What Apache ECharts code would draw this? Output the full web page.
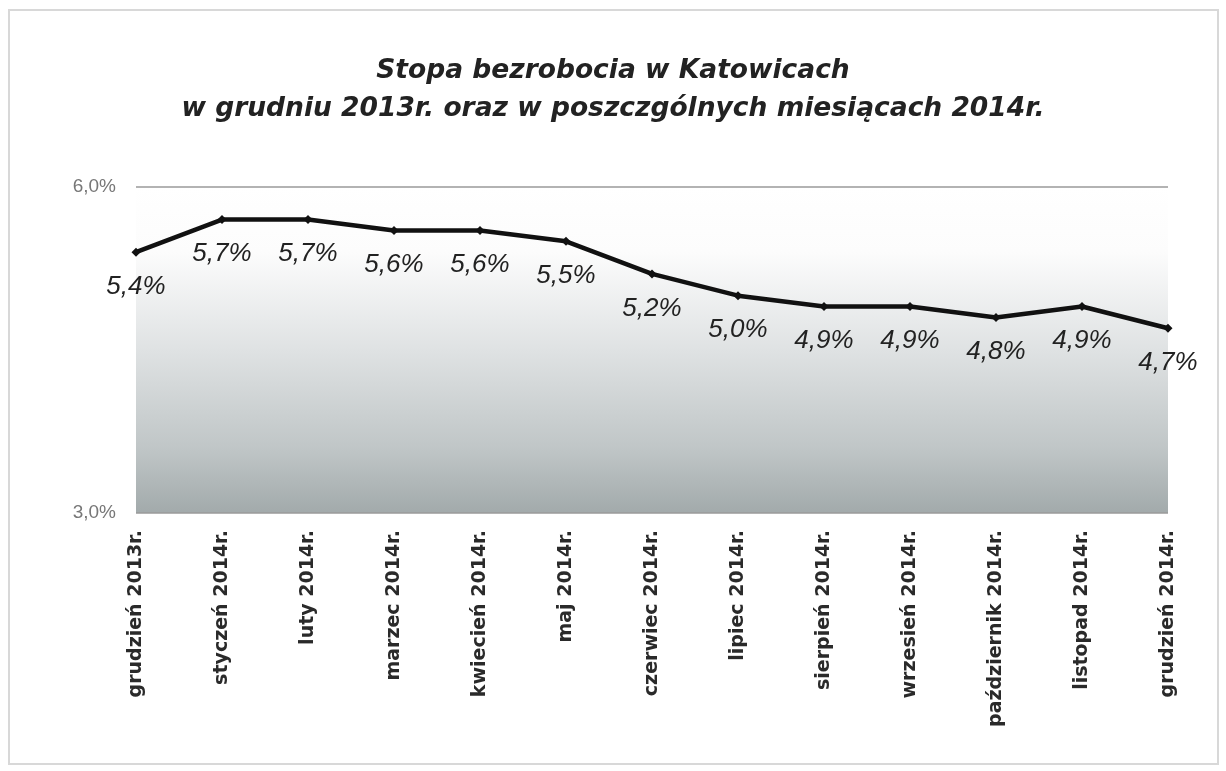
<!DOCTYPE html>
<html>
<head>
<meta charset="utf-8">
<script src="https://cdn.jsdelivr.net/npm/echarts@6/dist/echarts.min.js"></script>
<style>
  html, body { margin: 0; padding: 0; background: #fff; }
  #chart { width: 1226px; height: 771px; }
</style>
</head>
<body>
<div id="chart"></div>
<script>
// dane: stopa bezrobocia w Katowicach (%)
var months = ['grudzień 2013r.', 'styczeń 2014r.', 'luty 2014r.', 'marzec 2014r.', 'kwiecień 2014r.',
  'maj 2014r.', 'czerwiec 2014r.', 'lipiec 2014r.', 'sierpień 2014r.', 'wrzesień 2014r.',
  'październik 2014r.', 'listopad 2014r.', 'grudzień 2014r.'];
var rates = [5.4, 5.7, 5.7, 5.6, 5.6, 5.5, 5.2, 5.0, 4.9, 4.9, 4.8, 4.9, 4.7];
var yMin = 3.0, yMax = 6.0, yStep = 3.0;

function pl(v) { return v.toFixed(1).replace('.', ',') + '%'; }

var chart = echarts.init(document.getElementById('chart'));

var option = {
  animation: false,
  backgroundColor: '#fff',
  title: {
    text: 'Stopa bezrobocia w Katowicach\nw grudniu 2013r. oraz w poszczgólnych miesiącach 2014r.',
    left: 'center',
    top: 47,
    textStyle: {
      fontFamily: 'DejaVu Sans',
      fontSize: 26.5,
      fontWeight: 'bold',
      fontStyle: 'italic',
      color: '#222',
      lineHeight: 38
    }
  },
  graphic: [{
    type: 'rect',
    shape: { x: 9, y: 10, width: 1209, height: 754 },
    style: { fill: 'none', stroke: '#d8d8d8', lineWidth: 2 },
    silent: true
  }],
  grid: {
    left: 136,
    right: 58,
    top: 187,
    bottom: 258,
    show: true,
    borderWidth: 0,
    backgroundColor: new echarts.graphic.LinearGradient(0, 0, 0, 1, [
      { offset: 0, color: '#ffffff' },
      { offset: 0.2, color: '#fcfcfc' },
      { offset: 0.5, color: '#dfe2e3' },
      { offset: 0.8, color: '#c0c6c7' },
      { offset: 1, color: '#a2aaab' }
    ])
  },
  xAxis: {
    type: 'category',
    data: months,
    boundaryGap: false,
    axisLine: { show: false },
    axisTick: { show: false },
    axisLabel: {
      rotate: 90,
      margin: 17,
      fontFamily: 'DejaVu Sans',
      fontSize: 19,
      fontWeight: 'bold',
      color: '#2a2a2a'
    }
  },
  yAxis: {
    type: 'value',
    min: yMin,
    max: yMax,
    interval: yStep,
    axisLine: { show: false },
    axisTick: { show: false },
    splitLine: { show: true, lineStyle: { color: '#9a9a9a', width: 1.5 } },
    axisLabel: {
      margin: 20,
      fontFamily: 'Liberation Sans, Arial',
      fontSize: 19,
      color: '#777',
      formatter: function (v) { return pl(v); }
    }
  },
  series: [{
    type: 'line',
    data: rates,
    symbol: 'diamond',
    symbolSize: 9,
    lineStyle: { color: '#111', width: 4.5 },
    itemStyle: { color: '#111' },
    label: {
      show: true,
      position: 'bottom',
      distance: 17,
      fontFamily: 'Liberation Sans, Arial',
      fontSize: 26,
      fontStyle: 'italic',
      color: '#222',
      formatter: function (p) { return pl(p.value); }
    }
  }]
};

chart.setOption(option);
</script>
</body>
</html>
